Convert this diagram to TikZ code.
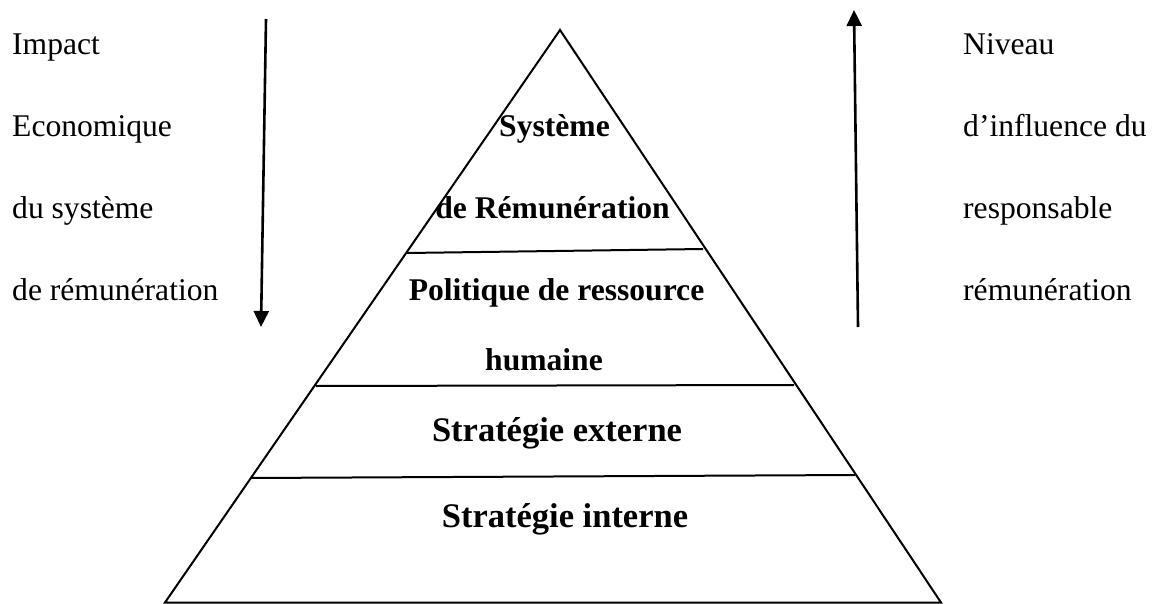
\documentclass[tikz,border=0pt]{standalone}
\usepackage{fontspec}
\setmainfont{Liberation Serif}
\usetikzlibrary{arrows.meta}
\begin{document}
\begin{tikzpicture}[x=1pt,y=-1pt,
  side/.style={anchor=base west,inner sep=0pt,font=\fontsize{31.6}{38}\selectfont},
  tier/.style={anchor=base,inner sep=0pt,font=\fontsize{31.6}{38}\selectfont\bfseries},
  bigtier/.style={anchor=base,inner sep=0pt,font=\fontsize{34.5}{40}\selectfont\bfseries},
  edge/.style={line width=2pt},
  flow/.style={line width=2.6pt,-{Triangle[width=15pt,length=16pt]}}]
\useasboundingbox (0,0) rectangle (1158,604);
\fill[white] (0,0) rectangle (1158,604);

% pyramid outline
\coordinate (apex) at (560,30);
\coordinate (bl) at (165,602.5);
\coordinate (br) at (941,602.5);
\draw[edge,line join=miter] (apex) -- (bl) -- (br) -- cycle;

% tier dividers
\coordinate (d1l) at (407,253);
\coordinate (d1r) at (703,249);
\coordinate (d2l) at (316,386);
\coordinate (d2r) at (794,385);
\coordinate (d3l) at (250,478);
\coordinate (d3r) at (855,475);
\draw[edge] (d1l) -- (d1r);
\draw[edge] (d2l) -- (d2r);
\draw[edge] (d3l) -- (d3r);

% tier labels
\node[tier] (t1a) at (554.5,137) {Système};
\node[tier] (t1b) at (552.5,218) {de Rémunération};
\node[tier] (t2a) at (556.5,300) {Politique de ressource};
\node[tier] (t2b) at (544,370) {humaine};
\node[bigtier] (t3) at (557,441) {Stratégie externe};
\node[bigtier] (t4) at (565,527) {Stratégie interne};

% left caption and downward arrow
\node[side] (l1) at (12,55) {Impact};
\node[side] (l2) at (12,137) {Economique};
\node[side] (l3) at (12,218) {du système};
\node[side] (l4) at (12,300) {de rémunération};
\coordinate (downtop) at (266,19);
\coordinate (downend) at (261,327);
\draw[flow] (downtop) -- (downend);

% right caption and upward arrow
\node[side] (r1) at (963,55) {Niveau};
\node[side] (r2) at (963,137) {d’influence du};
\node[side] (r3) at (963,218) {responsable};
\node[side] (r4) at (963,300) {rémunération};
\coordinate (upbottom) at (858,327);
\coordinate (uptop) at (854,10);
\draw[flow] (upbottom) -- (uptop);
\end{tikzpicture}
\end{document}
